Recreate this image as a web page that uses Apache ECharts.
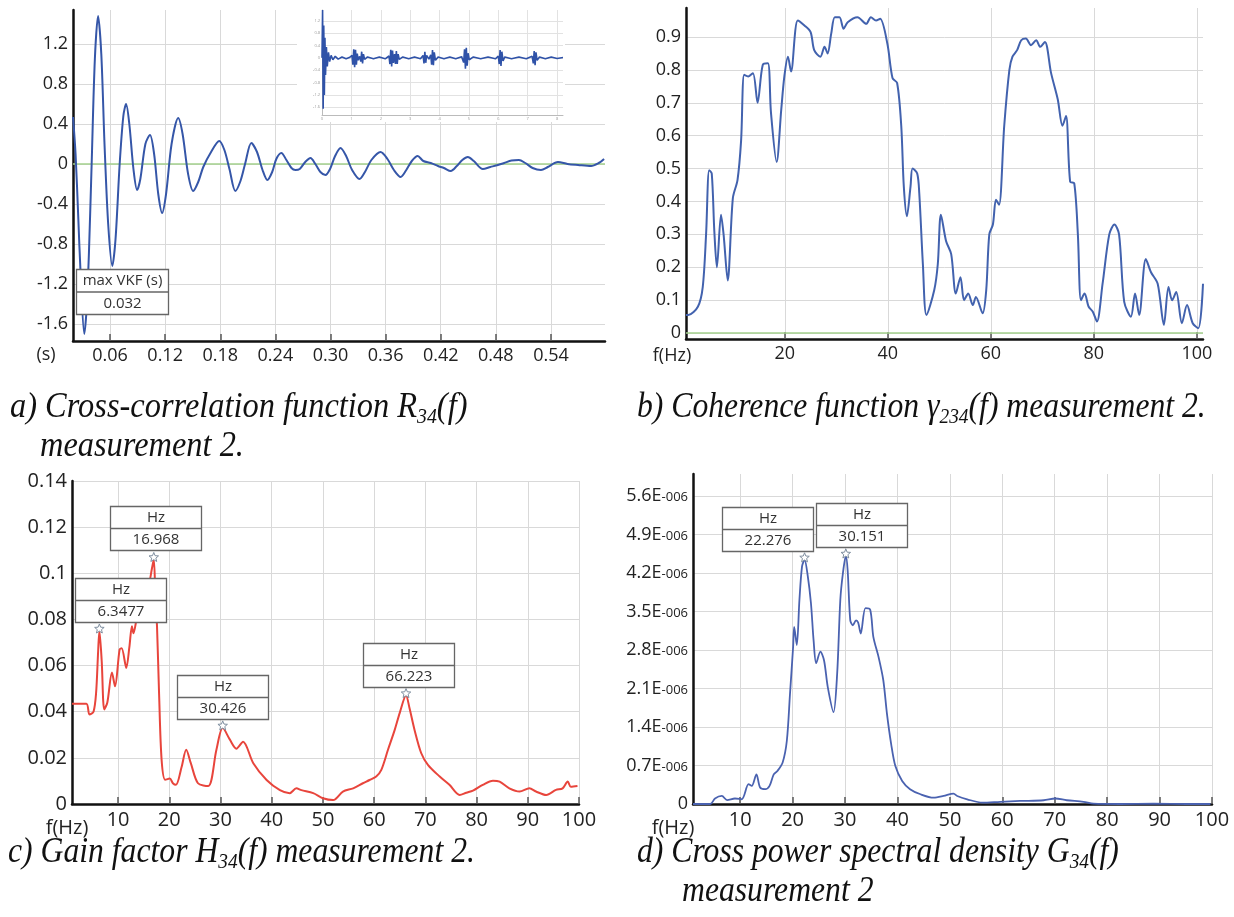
<!DOCTYPE html>
<html>
<head>
<meta charset="utf-8">
<script src="https://cdn.jsdelivr.net/npm/echarts@6/dist/echarts.min.js"></script>
<style>
  html, body { margin: 0; padding: 0; background: #fff; }
  #chart { width: 1234px; height: 917px; }
</style>
</head>
<body>
<div id="chart"></div>
<script>
// ---------- a) cross-correlation R34, measurement 2 : [time s, R] ----------
const corrPeakTime = 0.032;
const correlation = [
  [0.0197, 0.47], [0.0225, 0.10], [0.0255, -0.55], [0.028, -1.10], [corrPeakTime, -1.70],
  [0.0345, -1.45], [0.037, -0.90], [0.040, 0.00], [0.0435, 1.05], [0.047, 1.48],
  [0.0505, 1.10], [0.054, 0.20], [0.058, -0.60], [0.0625, -1.02], [0.066, -0.75],
  [0.0705, 0.00], [0.0745, 0.48], [0.0775, 0.60], [0.081, 0.40], [0.0855, -0.05],
  [0.0895, -0.26], [0.093, -0.15], [0.0985, 0.20], [0.1035, 0.29], [0.108, 0.10],
  [0.1125, -0.30], [0.1167, -0.49], [0.121, -0.30], [0.127, 0.20], [0.1342, 0.46],
  [0.139, 0.30], [0.145, -0.10], [0.1505, -0.27], [0.156, -0.18], [0.1615, -0.03],
  [0.170, 0.12], [0.1789, 0.23], [0.1845, 0.14], [0.190, -0.05], [0.1964, -0.27],
  [0.202, -0.17], [0.207, 0.00], [0.2138, 0.21], [0.220, 0.12], [0.226, -0.06],
  [0.2313, -0.16], [0.2365, -0.08], [0.241, 0.05], [0.2465, 0.11], [0.252, 0.04],
  [0.2575, -0.04], [0.2618, -0.06], [0.2665, -0.05], [0.2725, 0.02], [0.2782, 0.06],
  [0.2835, 0.00], [0.289, -0.08], [0.2945, -0.11], [0.2995, -0.05], [0.305, 0.08],
  [0.3109, 0.16], [0.317, 0.08], [0.3235, -0.06], [0.3316, -0.15], [0.3375, -0.08],
  [0.3445, 0.04], [0.3545, 0.12], [0.362, 0.05], [0.369, -0.06], [0.3764, -0.13],
  [0.3825, -0.06], [0.3885, 0.03], [0.3949, 0.08], [0.401, 0.03], [0.4091, 0.01],
  [0.417, -0.02], [0.4235, -0.04], [0.4309, -0.07], [0.4375, -0.02], [0.4435, 0.04],
  [0.4495, 0.07], [0.456, 0.03], [0.4658, -0.05], [0.474, -0.03], [0.4822, -0.01],
  [0.489, 0.01], [0.497, 0.035], [0.5051, 0.04], [0.512, 0.01], [0.520, -0.04],
  [0.5291, -0.06], [0.5365, -0.03], [0.5476, 0.02], [0.558, 0.00], [0.5695, -0.01],
  [0.5836, -0.02], [0.592, 0.01], [0.5978, 0.05]
];
const corrTimeTicks = [0.06, 0.12, 0.18, 0.24, 0.30, 0.36, 0.42, 0.48, 0.54];
const corrValueTicks = [-1.6, -1.2, -0.8, -0.4, 0, 0.4, 0.8, 1.2];

// full-length record shown in the small overview panel : [time, R]
const overview = [
  [0.00, 0.00], [0.02, 1.55], [0.04, -1.65], [0.06, 1.05], [0.08, -1.20], [0.10, 0.65],
  [0.12, -0.55], [0.15, 0.35], [0.18, -0.28], [0.22, 0.18], [0.26, -0.12], [0.31, 0.08],
  [0.37, -0.06], [0.45, 0.05], [0.55, -0.04], [0.68, 0.03], [0.82, -0.03], [0.95, 0.02],
  [1.02, 0.08], [1.05, -0.22], [1.08, 0.28], [1.11, -0.30], [1.14, 0.26], [1.17, -0.22],
  [1.20, 0.14], [1.23, -0.08], [1.28, 0.05], [1.32, -0.12], [1.35, 0.20], [1.38, -0.18],
  [1.41, 0.12], [1.45, -0.05], [1.55, 0.03], [1.75, -0.03], [1.95, 0.03], [2.15, -0.03],
  [2.28, 0.06], [2.31, -0.20], [2.34, 0.26], [2.37, -0.28], [2.40, 0.24], [2.43, -0.16],
  [2.47, 0.12], [2.50, -0.20], [2.53, 0.22], [2.56, -0.20], [2.59, 0.12], [2.63, -0.05],
  [2.75, 0.03], [2.95, -0.03], [3.15, 0.03], [3.35, -0.03], [3.44, 0.08], [3.47, -0.18],
  [3.50, 0.20], [3.53, -0.16], [3.56, 0.08], [3.64, -0.04], [3.70, 0.10], [3.73, -0.22],
  [3.76, 0.25], [3.79, -0.24], [3.82, 0.18], [3.86, -0.08], [3.95, 0.03], [4.15, -0.03],
  [4.35, 0.03], [4.55, -0.03], [4.75, 0.04], [4.82, -0.15], [4.85, 0.28], [4.88, -0.35],
  [4.91, 0.33], [4.94, -0.25], [4.97, 0.15], [5.01, -0.06], [5.15, 0.03], [5.40, -0.03],
  [5.65, 0.03], [5.90, -0.03], [6.00, 0.06], [6.03, -0.20], [6.06, 0.25], [6.09, -0.26],
  [6.12, 0.20], [6.16, -0.10], [6.22, 0.03], [6.45, -0.03], [6.70, 0.03], [6.95, -0.03],
  [7.15, 0.05], [7.19, -0.18], [7.22, 0.22], [7.25, -0.24], [7.28, 0.18], [7.32, -0.08],
  [7.40, 0.03], [7.60, -0.03], [7.80, 0.03], [8.00, -0.02], [8.20, 0.01]
];
const overviewTimeTicks = [0, 1, 2, 3, 4, 5, 6, 7, 8];
const overviewValueTicks = [-1.6, -1.2, -0.8, -0.4, 0, 0.4, 0.8, 1.2];

// ---------- b) coherence function : [f Hz, gamma^2] ----------
const coherence = [
  [0.8, 0.055], [1.25, 0.055], [3.1, 0.08], [4.05, 0.14], [4.7, 0.30], [5.3, 0.495],
  [5.8, 0.485], [6.3, 0.31], [6.8, 0.20], [7.6, 0.36], [8.1, 0.30], [8.9, 0.16],
  [9.9, 0.41], [10.8, 0.465], [11.5, 0.585], [12.1, 0.785], [12.9, 0.78], [13.8, 0.79],
  [14.7, 0.70], [15.7, 0.815], [16.7, 0.82], [17.3, 0.67], [18.4, 0.52], [19.3, 0.68],
  [19.9, 0.78], [20.6, 0.84], [21.2, 0.795], [22.5, 0.95], [23.8, 0.935], [25.0, 0.915],
  [25.7, 0.86], [26.9, 0.84], [27.7, 0.87], [28.3, 0.85], [29.0, 0.91], [29.7, 0.96],
  [30.6, 0.96], [31.4, 0.925], [32.2, 0.945], [34.1, 0.96], [35.8, 0.94], [36.7, 0.96],
  [37.7, 0.95], [38.5, 0.955], [39.9, 0.88], [40.9, 0.775], [41.8, 0.76], [42.6, 0.63],
  [43.1, 0.445], [43.7, 0.355], [44.4, 0.445], [44.8, 0.50], [45.7, 0.485], [46.1, 0.425],
  [46.8, 0.21], [47.5, 0.055], [49.0, 0.13], [49.7, 0.21], [50.3, 0.36], [51.3, 0.28],
  [52.3, 0.24], [53.2, 0.12], [54.1, 0.17], [54.8, 0.10], [55.6, 0.12], [56.5, 0.085],
  [57.1, 0.11], [58.4, 0.06], [59.1, 0.13], [59.7, 0.30], [60.4, 0.33], [61.0, 0.405],
  [61.6, 0.39], [62.6, 0.63], [63.6, 0.80], [64.2, 0.84], [65.1, 0.86], [65.9, 0.89],
  [66.8, 0.895], [67.8, 0.875], [68.8, 0.89], [69.6, 0.87], [70.5, 0.885], [71.7, 0.79],
  [73.0, 0.71], [73.9, 0.63], [74.6, 0.66], [75.4, 0.46], [76.2, 0.455], [76.9, 0.30],
  [77.5, 0.10], [78.2, 0.12], [79.0, 0.08], [79.8, 0.065], [80.6, 0.035], [81.7, 0.15],
  [83.0, 0.30], [84.0, 0.33], [84.9, 0.30], [85.9, 0.095], [87.2, 0.05], [88.0, 0.12],
  [88.8, 0.055], [90.1, 0.225], [91.1, 0.185], [92.4, 0.15], [93.6, 0.025], [94.5, 0.14],
  [95.2, 0.10], [96.0, 0.125], [97.1, 0.03], [98.1, 0.085], [99.2, 0.03], [100.3, 0.015],
  [101.2, 0.15]
];
const coherenceFreqTicks = [20, 40, 60, 80, 100];
const coherenceTicks = [0, 0.1, 0.2, 0.3, 0.4, 0.5, 0.6, 0.7, 0.8, 0.9];
const coherenceFloor = 0.003;

// ---------- c) gain factor H34 : [f Hz, H] ----------
const gainPeaks = [6.3477, 16.968, 30.426, 66.223];
const gain = [
  [1.0, 0.0435], [3.8, 0.0435], [4.4, 0.0388], [5.2, 0.040], [5.7, 0.048], [6.1, 0.066],
  [6.3477, 0.075], [6.8, 0.062], [7.3, 0.041], [7.9, 0.044], [8.8, 0.057], [9.4, 0.051],
  [10.3, 0.067], [10.7, 0.0675], [11.6, 0.059], [12.2, 0.068], [12.7, 0.077], [13.0, 0.074],
  [13.6, 0.080], [14.2, 0.085], [14.8, 0.088], [15.4, 0.097], [15.9, 0.095], [16.6, 0.102],
  [16.968, 0.106], [17.3, 0.089], [17.6, 0.077], [18.0, 0.048], [18.5, 0.019], [19.2, 0.0105],
  [20.1, 0.011], [20.7, 0.009], [21.3, 0.0083], [22.4, 0.016], [23.3, 0.0235], [24.2, 0.0177],
  [25.6, 0.009], [27.6, 0.0078], [29.2, 0.0235], [30.426, 0.033], [31.8, 0.028], [33.1, 0.024],
  [34.4, 0.027], [36.4, 0.0177], [39.0, 0.0104], [41.6, 0.006], [43.5, 0.0047], [44.8, 0.0068],
  [45.8, 0.006], [48.1, 0.0047], [50.0, 0.0025], [52.0, 0.0017], [53.9, 0.0054], [55.9, 0.0068],
  [57.8, 0.009], [59.1, 0.0104], [60.4, 0.0119], [61.4, 0.0148], [62.7, 0.0235], [64.0, 0.032],
  [65.0, 0.0395], [66.223, 0.047], [66.9, 0.0416], [67.9, 0.032], [69.2, 0.022], [70.5, 0.017],
  [72.8, 0.0119], [74.7, 0.0083], [76.7, 0.0039], [78.0, 0.0049], [79.3, 0.0058], [81.2, 0.0083],
  [83.2, 0.0101], [84.5, 0.0097], [86.4, 0.0068], [88.4, 0.0054], [90.3, 0.0068], [91.6, 0.0054],
  [93.6, 0.0039], [95.5, 0.0061], [96.8, 0.0068], [97.8, 0.0097], [98.4, 0.0075], [99.7, 0.0078]
];
const freqTicks = [10, 20, 30, 40, 50, 60, 70, 80, 90, 100];
const gainTicks = [0, 0.02, 0.04, 0.06, 0.08, 0.1, 0.12, 0.14];

// ---------- d) cross power spectral density G34 : [f Hz, G] ----------
const cpsdPeaks = [22.276, 30.151];
const cpsd = [
  [1.0, 0], [4.3, 0], [5.2, 0.10e-6], [6.5, 0.146e-6], [7.5, 0.07e-6], [9.0, 0.10e-6],
  [10.3, 0.086e-6], [11.6, 0.36e-6], [12.2, 0.33e-6], [13.1, 0.54e-6], [13.8, 0.30e-6],
  [14.8, 0.27e-6], [15.6, 0.33e-6], [16.4, 0.54e-6], [17.1, 0.60e-6], [18.1, 0.755e-6],
  [18.9, 1.15e-6], [19.5, 2.0e-6], [20.1, 2.86e-6], [20.3, 3.22e-6], [20.8, 2.89e-6],
  [21.3, 3.71e-6], [21.8, 4.32e-6], [22.276, 4.44e-6], [22.9, 4.14e-6], [23.5, 3.65e-6],
  [24.0, 2.98e-6], [24.5, 2.56e-6], [25.3, 2.77e-6], [26.0, 2.61e-6], [26.7, 2.13e-6],
  [27.8, 1.67e-6], [28.5, 2.37e-6], [29.1, 3.71e-6], [29.6, 4.2e-6], [30.151, 4.51e-6],
  [30.5, 4.25e-6], [31.0, 3.34e-6], [31.5, 3.25e-6], [32.1, 3.34e-6], [32.5, 3.30e-6],
  [33.0, 3.10e-6], [33.9, 3.56e-6], [34.8, 3.53e-6], [35.4, 3.04e-6], [36.4, 2.67e-6],
  [37.3, 2.25e-6], [38.0, 1.64e-6], [38.8, 1.09e-6], [39.6, 0.69e-6], [40.9, 0.42e-6],
  [42.4, 0.27e-6], [44.4, 0.177e-6], [46.9, 0.115e-6], [48.8, 0.146e-6], [50.7, 0.19e-6],
  [51.4, 0.146e-6], [53.3, 0.086e-6], [56.2, 0.024e-6], [59.6, 0.04e-6], [63.4, 0.055e-6],
  [67.9, 0.068e-6], [70.1, 0.10e-6], [72.3, 0.068e-6], [75.5, 0.04e-6], [77.4, 0.006e-6],
  [82.5, 0], [88.9, 0.006e-6], [95.2, 0], [99.7, 0]
];
const cpsdTicks = [0, 0.7e-6, 1.4e-6, 2.1e-6, 2.8e-6, 3.5e-6, 4.2e-6, 4.9e-6, 5.6e-6];

// ---------- styling helpers ----------
const tickFont = '"Open Sans", "DejaVu Sans", sans-serif';
const captionFont = '"Liberation Serif", "Times New Roman", serif';

function valueAxis(o) {
  return {
    type: 'value',
    gridIndex: o.grid,
    min: o.min,
    max: o.max,
    z: o.z || 0,
    axisLine: { show: true, onZero: false, lineStyle: { color: o.lineColor || '#111', width: o.lineWidth || 2.5 } },
    axisTick: {
      show: !!o.tick, inside: true, length: 7, customValues: o.values,
      lineStyle: { color: '#555', width: 1.5 }
    },
    axisLabel: {
      show: true, customValues: o.values, formatter: o.fmt, margin: o.margin,
      fontSize: o.fontSize, color: o.labelColor || '#222', fontFamily: tickFont,
      rich: o.rich, hideOverlap: false
    },
    splitLine: { show: true, lineStyle: { color: o.gridColor || '#d9d9d9', width: 1 } }
  };
}

const fmtPlain = v => (v === 0 ? '0' : String(+v.toFixed(2)));
const fmtOne = v => (v === 0 ? '0' : v.toFixed(1));

function valueAt(series, f) {
  const hit = series.find(p => p[0] === f);
  return hit ? hit[1] : 0;
}

// peak annotation: star marker on the curve plus a two-row "Hz / value" box
function peakBoxes(shifts) {
  return function (params, api) {
    const p = api.coord([api.value(0), api.value(1)]);
    const w = 91, h = 44;
    const bx = Math.round(p[0] + shifts[params.dataIndex] - w / 2) + 0.5;
    const by = Math.round(p[1] - 9 - h) + 0.5;
    const star = [];
    for (let k = 0; k < 10; k++) {
      const r = k % 2 ? 2.2 : 5;
      const a = -Math.PI / 2 + k * Math.PI / 5;
      star.push([p[0] + r * Math.cos(a), p[1] - 2 + r * Math.sin(a)]);
    }
    return {
      type: 'group',
      children: [
        { type: 'polygon', shape: { points: star }, style: { fill: '#fff', stroke: '#7f8fa0', lineWidth: 1 } },
        { type: 'rect', shape: { x: bx, y: by, width: w, height: h }, style: { fill: '#fff', stroke: '#666', lineWidth: 1.3 } },
        { type: 'line', shape: { x1: bx, y1: by + h / 2, x2: bx + w, y2: by + h / 2 }, style: { stroke: '#666', lineWidth: 1.3 } },
        { type: 'text', style: { text: 'Hz', x: bx + w / 2, y: by + h / 4 + 0.5, align: 'center', verticalAlign: 'middle', font: '15px ' + tickFont, fill: '#333' } },
        { type: 'text', style: { text: String(api.value(0)), x: bx + w / 2, y: by + 3 * h / 4 + 0.5, align: 'center', verticalAlign: 'middle', font: '15px ' + tickFont, fill: '#333' } }
      ]
    };
  };
}

// caption lines built from plain runs and subscript runs
const measureCtx = document.createElement('canvas').getContext('2d');
function caption(parts, x, y, size, scaleX) {
  let cx = 0;
  const children = [];
  parts.forEach(p => {
    const sz = p.sub ? Math.round(size * 0.62) : size;
    const font = 'italic ' + sz + 'px ' + captionFont;
    measureCtx.font = font;
    children.push({
      type: 'text', x: cx, y: p.sub ? size * 0.26 : 0, z: 10,
      style: { text: p.t, font: font, fill: '#111', verticalAlign: 'middle' }
    });
    cx += measureCtx.measureText(p.t).width;
  });
  return { type: 'group', x: x, y: y, scaleX: scaleX, children: children };
}

function unitLabel(text, x, y, size) {
  return { type: 'text', x: x, y: y, z: 10,
    style: { text: text, font: size + 'px ' + tickFont, fill: '#222', align: 'center', verticalAlign: 'middle' } };
}

const chart = echarts.init(document.getElementById('chart'), null, { renderer: 'canvas' });

const grids = [
  { left: 73, top: 10, width: 532, height: 331 },     // a
  { left: 322, top: 10, width: 241, height: 105 },    // a, overview panel
  { left: 686, top: 8, width: 517, height: 331 },     // b
  { left: 72, top: 481, width: 507, height: 323 },    // c
  { left: 693, top: 474, width: 519, height: 330 }    // d
].map(g => Object.assign({ containLabel: false, outerBoundsMode: 'none', show: false }, g));

const option = {
  animation: false,
  backgroundColor: '#fff',
  grid: grids,
  xAxis: [
    valueAxis({ grid: 0, min: 0.0197, max: 0.5988, values: corrTimeTicks, fmt: v => v.toFixed(2), margin: 6, fontSize: 18, tick: true }),
    valueAxis({ grid: 1, min: 0, max: 8.2, values: overviewTimeTicks, fmt: v => String(v), margin: 2, fontSize: 4, labelColor: '#999', lineColor: '#bbb', lineWidth: 1, gridColor: '#e2e2e2', z: 6 }),
    valueAxis({ grid: 2, min: 0.8, max: 101.2, values: coherenceFreqTicks, fmt: v => String(v), margin: 6, fontSize: 18, tick: true }),
    valueAxis({ grid: 3, min: 1, max: 100, values: freqTicks, fmt: v => String(v), margin: 6, fontSize: 20, tick: true }),
    valueAxis({ grid: 4, min: 1, max: 100, values: freqTicks, fmt: v => String(v), margin: 6, fontSize: 20, tick: true })
  ],
  yAxis: [
    valueAxis({ grid: 0, min: -1.77, max: 1.54, values: corrValueTicks, fmt: fmtOne, margin: 5, fontSize: 18 }),
    valueAxis({ grid: 1, min: -1.85, max: 1.55, values: overviewValueTicks, fmt: fmtOne, margin: 2, fontSize: 4, labelColor: '#999', lineColor: '#bbb', lineWidth: 1, gridColor: '#e2e2e2', z: 6 }),
    valueAxis({ grid: 2, min: -0.018, max: 0.988, values: coherenceTicks, fmt: fmtOne, margin: 5, fontSize: 18 }),
    valueAxis({ grid: 3, min: 0, max: 0.14, values: gainTicks, fmt: fmtPlain, margin: 5, fontSize: 20 }),
    valueAxis({
      grid: 4, min: 0, max: 6.0e-6, values: cpsdTicks, margin: 5, fontSize: 18,
      fmt: v => (v === 0 ? '{m|0}' : '{m|' + (v * 1e6).toFixed(1) + 'E}{e|-006}'),
      rich: {
        m: { fontSize: 18, fontFamily: tickFont, color: '#222' },
        e: { fontSize: 13, fontFamily: tickFont, color: '#222', padding: [3, 0, 0, 0] }
      }
    })
  ],
  series: [
    {
      type: 'line', xAxisIndex: 0, yAxisIndex: 0, data: correlation, showSymbol: false, smooth: 0.3,
      lineStyle: { color: '#3556a8', width: 2 }, z: 3,
      markLine: { silent: true, symbol: 'none', label: { show: false }, z: 2,
        lineStyle: { color: '#a3d08c', width: 1.5, type: 'solid' }, data: [{ yAxis: 0 }] }
    },
    {
      type: 'line', xAxisIndex: 1, yAxisIndex: 1, data: overview, showSymbol: false,
      lineStyle: { color: '#2f52a8', width: 1.6 }, z: 7
    },
    {
      type: 'line', xAxisIndex: 2, yAxisIndex: 2, data: coherence, showSymbol: false, smooth: 0.3,
      lineStyle: { color: '#4262ae', width: 2 }, z: 3,
      markLine: { silent: true, symbol: 'none', label: { show: false },
        lineStyle: { color: '#a3d08c', width: 1.5, type: 'solid' }, data: [{ yAxis: coherenceFloor }] }
    },
    {
      type: 'line', xAxisIndex: 3, yAxisIndex: 3, data: gain, showSymbol: false, smooth: 0.3,
      lineStyle: { color: '#e8453c', width: 2 }, z: 3
    },
    {
      type: 'custom', xAxisIndex: 3, yAxisIndex: 3, z: 10, silent: true,
      data: gainPeaks.map(f => [f, valueAt(gain, f)]),
      renderItem: peakBoxes([21, 2, 0, 2])
    },
    {
      type: 'line', xAxisIndex: 4, yAxisIndex: 4, data: cpsd, showSymbol: false, smooth: 0.3,
      lineStyle: { color: '#4a62b0', width: 1.8 }, z: 3
    },
    {
      type: 'custom', xAxisIndex: 4, yAxisIndex: 4, z: 10, silent: true,
      data: cpsdPeaks.map(f => [f, valueAt(cpsd, f)]),
      renderItem: peakBoxes([-37, 16])
    }
  ],
  graphic: [
    // white panel behind the overview plot
    { type: 'rect', z: 5, shape: { x: 297, y: 0, width: 268, height: 122 }, style: { fill: '#fff' } },
    // result box of panel a
    {
      type: 'group', x: 76.5, y: 269.5,
      children: [
        { type: 'rect', z: 20, shape: { x: 0, y: 0, width: 92, height: 45 }, style: { fill: '#fff', stroke: '#666', lineWidth: 1.3 } },
        { type: 'line', z: 21, shape: { x1: 0, y1: 22.5, x2: 92, y2: 22.5 }, style: { stroke: '#666', lineWidth: 1.3 } },
        { type: 'text', z: 21, x: 46, y: 11.5, style: { text: 'max VKF (s)', font: '15px ' + tickFont, fill: '#333', align: 'center', verticalAlign: 'middle' } },
        { type: 'text', z: 21, x: 46, y: 34, style: { text: String(corrPeakTime), font: '15px ' + tickFont, fill: '#333', align: 'center', verticalAlign: 'middle' } }
      ]
    },
    unitLabel('(s)', 46, 355, 18),
    unitLabel('f(Hz)', 672, 356, 18),
    unitLabel('f(Hz)', 67, 828, 20),
    unitLabel('f(Hz)', 673, 828, 20),
    caption([{ t: 'a) Cross-correlation function R' }, { t: '34', sub: true }, { t: '(f)' }], 10, 408, 36, 0.9),
    caption([{ t: 'measurement 2.' }], 40, 447, 36, 0.9),
    caption([{ t: 'b) Coherence function γ' }, { t: '234', sub: true }, { t: '(f) measurement 2.' }], 637, 408, 36, 0.88),
    caption([{ t: 'c) Gain factor H' }, { t: '34', sub: true }, { t: '(f) measurement 2.' }], 8, 853, 36, 0.88),
    caption([{ t: 'd) Cross power spectral density G' }, { t: '34', sub: true }, { t: '(f)' }], 637, 853, 36, 0.88),
    caption([{ t: 'measurement 2' }], 682, 892, 36, 0.88)
  ]
};

chart.setOption(option);
</script>
</body>
</html>
